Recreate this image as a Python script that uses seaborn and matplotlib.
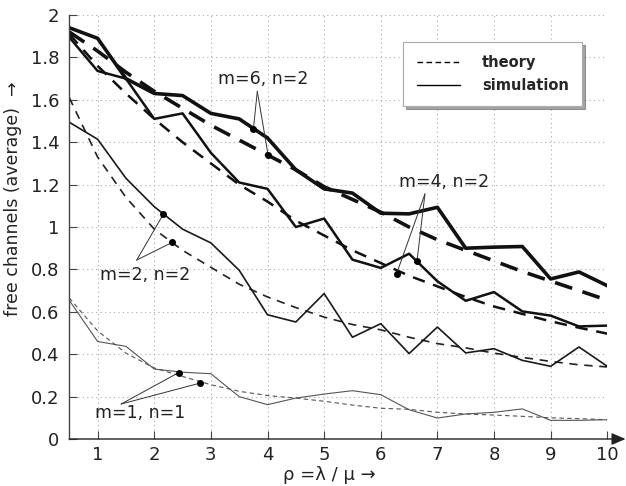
import numpy as np
import pandas as pd
import matplotlib
matplotlib.use("Agg")
import matplotlib.pyplot as plt
from matplotlib.lines import Line2D
from matplotlib.ticker import FuncFormatter
import seaborn as sns

rho = [0.5, 1, 1.5, 2, 2.5, 3, 3.5, 4, 4.5, 5, 5.5, 6, 6.5, 7, 7.5, 8, 8.5, 9, 9.5, 10]

theory_m6 = [1.92, 1.83, 1.73, 1.64, 1.56, 1.48, 1.41, 1.34, 1.27, 1.19, 1.13, 1.07, 1.00, 0.94, 0.89, 0.84, 0.79, 0.745, 0.70, 0.655]
theory_m4 = [1.91, 1.76, 1.63, 1.51, 1.40, 1.30, 1.20, 1.12, 1.03, 0.96, 0.89, 0.83, 0.77, 0.72, 0.67, 0.625, 0.59, 0.555, 0.525, 0.497]
theory_m2 = [1.61, 1.33, 1.14, 0.99, 0.89, 0.81, 0.73, 0.67, 0.62, 0.575, 0.54, 0.515, 0.48, 0.45, 0.43, 0.405, 0.385, 0.366, 0.35, 0.34]
theory_m1 = [0.665, 0.51, 0.405, 0.335, 0.295, 0.256, 0.225, 0.205, 0.193, 0.178, 0.16, 0.145, 0.14, 0.126, 0.118, 0.113, 0.107, 0.10, 0.096, 0.091]

sim_m6 = [1.94, 1.89, 1.70, 1.63, 1.62, 1.536, 1.51, 1.42, 1.27, 1.18, 1.16, 1.065, 1.062, 1.093, 0.90, 0.905, 0.908, 0.755, 0.788, 0.723]
sim_m4 = [1.895, 1.736, 1.70, 1.51, 1.536, 1.35, 1.21, 1.18, 1.00, 1.04, 0.846, 0.807, 0.874, 0.744, 0.652, 0.693, 0.602, 0.582, 0.531, 0.535]
sim_m2 = [1.494, 1.414, 1.23, 1.096, 0.99, 0.925, 0.796, 0.586, 0.552, 0.686, 0.48, 0.544, 0.403, 0.528, 0.406, 0.426, 0.371, 0.343, 0.434, 0.343]
sim_m1 = [0.654, 0.46, 0.437, 0.33, 0.315, 0.308, 0.20, 0.162, 0.193, 0.212, 0.228, 0.209, 0.138, 0.099, 0.118, 0.126, 0.142, 0.088, 0.088, 0.091]

x_ticks = [1, 2, 3, 4, 5, 6, 7, 8, 9, 10]
y_ticks = [0, 0.2, 0.4, 0.6, 0.8, 1, 1.2, 1.4, 1.6, 1.8, 2]

sns.set_theme(style="white")
plt.rcParams['font.family'] = ['DejaVu Sans']

fig = plt.figure(figsize=(6.26, 4.86), dpi=100)
ax = fig.add_axes([0.1107, 0.0967, 0.8594, 0.8724])

styles = [
    (theory_m6, 2.6, "#111111", (0, (5, 3))),
    (theory_m4, 1.8, "#111111", (0, (5, 3.5))),
    (theory_m2, 1.2, "#222222", (0, (5, 4))),
    (theory_m1, 0.8, "#555555", (0, (4, 3))),
    (sim_m6, 2.6, "#111111", "-"),
    (sim_m4, 1.8, "#111111", "-"),
    (sim_m2, 1.2, "#1a1a1a", "-"),
    (sim_m1, 0.8, "#555555", "-"),
]
for ys, lw, col, ls in styles:
    df = pd.DataFrame({"rho": rho, "v": ys})
    sns.lineplot(data=df, x="rho", y="v", ax=ax, color=col, linewidth=lw,
                 linestyle=ls, legend=False)

ax.set_xlim(0.5, 10)
ax.set_ylim(0, 2)
ax.set_xticks(x_ticks)
ax.set_yticks(y_ticks)
ax.yaxis.set_major_formatter(FuncFormatter(lambda v, p: "%g" % v))
ax.grid(True, linestyle=(0, (1, 3)), color="#aaaaaa", linewidth=0.8)
for s in ["top", "right", "bottom"]:
    ax.spines[s].set_visible(False)
ax.spines["left"].set_color("#444444")
ax.spines["left"].set_linewidth(1.0)
ax.tick_params(direction="in", length=6, width=0.8, color="#444444",
               labelsize=13, labelcolor="#222222", pad=5, left=True, bottom=True)
ax.tick_params(axis="y", pad=7)
ax.set_xlabel("")
ax.set_ylabel("")

# x axis with arrow
ax.annotate("", xy=(1.034, 0), xytext=(0, 0), xycoords="axes fraction",
            textcoords="axes fraction",
            arrowprops=dict(arrowstyle="-|>,head_length=0.7,head_width=0.3",
                            color="#222222", lw=1.0, shrinkA=0, shrinkB=0),
            annotation_clip=False)

fig.text(329/626, 1 - 475/486, "ρ =λ / μ →", ha="center", va="center",
         fontsize=13, color="#222222")
fig.text(13/626, 1 - 199/486, "free channels (average)  →", ha="center",
         va="center", rotation=90, fontsize=12.5, color="#222222")

# annotations
def annot(text, txy, origin, targets):
    ax.text(txy[0], txy[1], text, fontsize=12.5, color="#222222", ha="left", va="center")
    for t in targets:
        ax.plot([origin[0], t[0]], [origin[1], t[1]], color="#333333", lw=0.7)
        ax.plot([t[0]], [t[1]], "o", color="black", markersize=4)

annot("m=6, n=2", (3.12, 1.70), (3.82, 1.64), [(3.75, 1.46), (4.01, 1.34)])
annot("m=4, n=2", (6.32, 1.21), (6.78, 1.156), [(6.28, 0.78), (6.64, 0.84)])
annot("m=2, n=2", (1.04, 0.774), (1.69, 0.844), [(2.16, 1.06), (2.32, 0.928)])
annot("m=1, n=1", (0.96, 0.125), (1.415, 0.165), [(2.43, 0.313), (2.80, 0.263)])

handles = [Line2D([], [], color="black", lw=1.0, linestyle=(0, (4, 2.5))),
           Line2D([], [], color="black", lw=1.0, linestyle="-")]
leg = ax.legend(handles, ["theory", "simulation"], loc="upper left",
                bbox_to_anchor=(0.621, 0.937), frameon=True, shadow=True,
                fancybox=False, handlelength=3.0, handletextpad=1.5,
                borderpad=0.9, labelspacing=0.55, borderaxespad=0,
                prop={"weight": "bold", "size": 10.5})
leg.get_frame().set_edgecolor("#aaaaaa")
leg.get_frame().set_linewidth(0.8)

fig.savefig("out.png", dpi=100)
